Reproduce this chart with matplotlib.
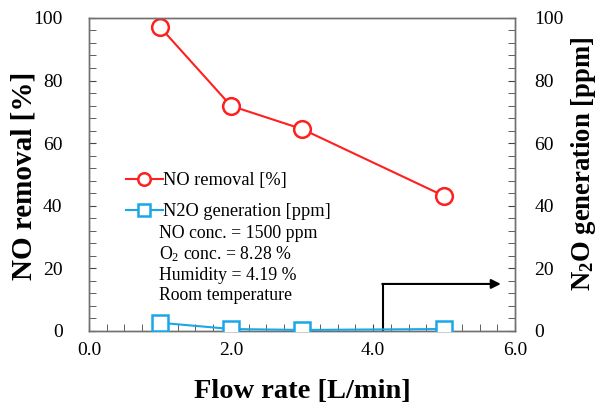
import matplotlib
matplotlib.use("Agg")
import matplotlib.pyplot as plt
from matplotlib.ticker import MultipleLocator

plt.rcParams['font.family'] = ['Liberation Serif', 'DejaVu Serif']
plt.rcParams['mathtext.default'] = 'regular'

flow = [1.0, 2.0, 3.0, 5.0]
no_removal = [97.1, 71.9, 64.5, 43.1]
n2o = [2.6, 0.6, 0.3, 0.6]
arrow_x = [4.14, 4.14, 5.8]
arrow_y = [0, 15, 15]

fig = plt.figure(figsize=(6.01, 4.07), dpi=100)
ax = fig.add_axes([0.148, 0.187, 0.709, 0.769])
ax2 = ax.twinx()

red = '#ff1f1f'
blue = '#1aa7e6'
l1, = ax.plot(flow, no_removal, '-o', color=red, lw=1.5, ms=12, mfc='white', mec=red, mew=1.8,
              label='NO removal [%]', zorder=3)
l2, = ax2.plot(flow, n2o, '-s', color=blue, lw=1.5, ms=11.5, mfc='white', mec=blue, mew=1.8,
               label='N2O generation [ppm]', zorder=3)

ax2.plot(arrow_x[:2], arrow_y[:2], color='black', lw=1.5, solid_capstyle='butt')
ax2.annotate('', xy=(arrow_x[2], arrow_y[2]), xytext=(arrow_x[1] - 0.01, arrow_y[1]),
             arrowprops=dict(arrowstyle='-|>', color='black', lw=1.5, mutation_scale=14,
                             shrinkA=0, shrinkB=0))

for a in (ax, ax2):
    a.set_ylim(0, 100)
    a.yaxis.set_major_locator(MultipleLocator(20))
    a.yaxis.set_minor_locator(MultipleLocator(4))
    for s in a.spines.values():
        s.set_color('#707070')
        s.set_linewidth(1.0)
ax.set_xlim(0, 6)
ax.xaxis.set_minor_locator(MultipleLocator(0.25))
ax.set_xticks([0, 2, 4, 6])
ax.set_xticklabels(['0.0', '2.0', '4.0', '6.0'])

ax.tick_params(axis='both', which='both', direction='in', color='#444444', labelsize=14)
ax.tick_params(axis='y', which='both', pad=19)
ax.tick_params(axis='x', which='both', top=False, pad=8)
ax.tick_params(which='major', length=5)
ax.tick_params(which='minor', length=5)
ax2.tick_params(axis='y', which='both', direction='in', color='#444444', labelsize=14, pad=14)
ax2.tick_params(which='major', length=5)
ax2.tick_params(which='minor', length=5)

ax.set_xlabel('Flow rate [L/min]', fontsize=20.5, fontweight='bold', labelpad=14.5)
ax.set_ylabel('NO removal [%]', fontsize=21, fontweight='bold', labelpad=-3)
ax2.set_ylabel('N$_2$O generation [ppm]', fontsize=19.2, fontweight='bold', labelpad=4)
ax.yaxis.label.set_y(0.495)
ax2.yaxis.label.set_y(0.534)

leg = ax.legend(handles=[l1, l2], loc='upper left', bbox_to_anchor=(0.07, 0.53),
                frameon=False, fontsize=13.2, handlelength=2.0, handletextpad=0.0,
                labelspacing=0.75, borderaxespad=0, markerscale=0.75)

txt = 'NO conc. = 1500 ppm\nO$_2$ conc. = 8.28 %\nHumidity = 4.19 %\nRoom temperature'
ax.text(0.165, 0.339, txt, transform=ax.transAxes, fontsize=12.8, va='top', ha='left',
        linespacing=1.2)

fig.savefig('out.png', dpi=100)
